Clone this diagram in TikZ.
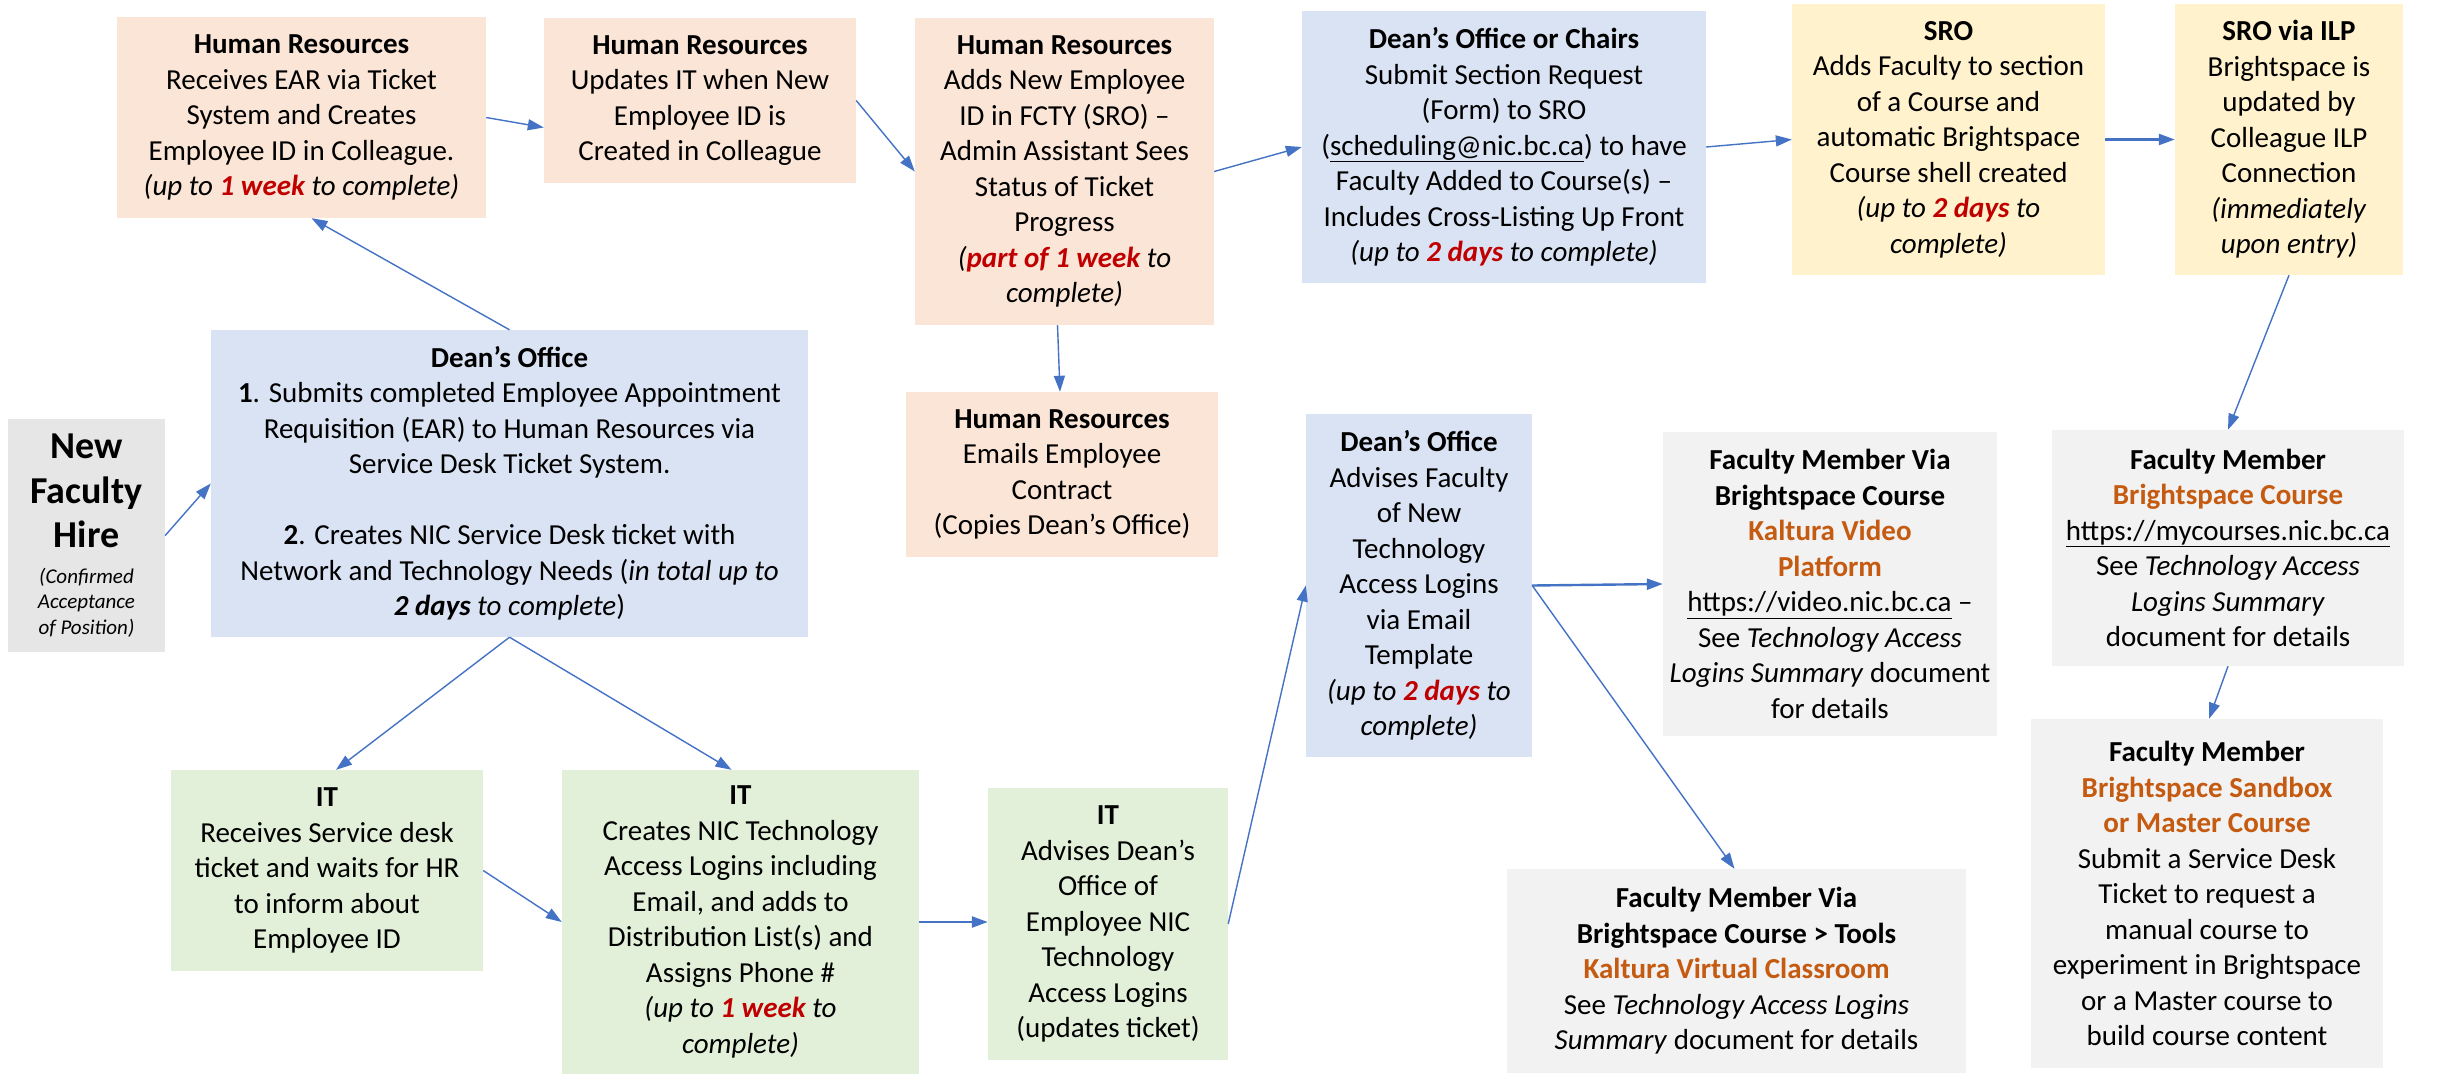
\documentclass[tikz,border=0pt]{standalone}
\usepackage{fontspec}
\setmainfont{Carlito}
\usetikzlibrary{arrows.meta}
\definecolor{hrfill}{HTML}{FBE5D6}
\definecolor{bluefill}{HTML}{DAE3F3}
\definecolor{yelfill}{HTML}{FFF2CC}
\definecolor{grnfill}{HTML}{E2F0D9}
\definecolor{greyfill}{HTML}{F2F2F2}
\definecolor{nfhfill}{HTML}{E7E6E6}
\definecolor{arrowblue}{HTML}{4472C4}
\definecolor{orangetxt}{HTML}{C55A11}
\definecolor{redtxt}{HTML}{C00000}
\newcommand{\rd}[1]{\textcolor{redtxt}{\textbf{#1}}}
\newcommand{\og}[1]{\textcolor{orangetxt}{\textbf{#1}}}
\tikzset{
  box/.style={rectangle, inner sep=0pt, align=center, font=\fontsize{29}{35.5}\selectfont},
  conn/.style={draw=arrowblue, line width=1.4pt, -{Triangle[length=16pt,width=11pt]}},
  connthick/.style={conn, line width=2.4pt}
}
\begin{document}
\begin{tikzpicture}[x=1pt,y=-1pt]
\fill[white] (0,0) rectangle (2438,1076);
\useasboundingbox (0,0) rectangle (2438,1076);

\node[box, fill=hrfill, minimum width=369pt, minimum height=201pt] (hr1) at (301.5,117.5)
 {\textbf{Human Resources}\\Receives EAR via Ticket\\System and Creates\\Employee ID in Colleague.\\\textit{(up to \rd{1 week} to complete)}};
\node[box, fill=hrfill, minimum width=312pt, minimum height=165pt] (hr2) at (700,100.5)
 {\textbf{Human Resources}\\Updates IT when New\\Employee ID is\\Created in Colleague};
\node[box, fill=hrfill, minimum width=299pt, minimum height=307pt] (hr3) at (1064.5,171.5)
 {\textbf{Human Resources}\\Adds New Employee\\ID in FCTY (SRO) –\\Admin Assistant Sees\\Status of Ticket\\Progress\\\textit{(\rd{part of 1 week} to}\\\textit{complete)}};
\node[box, fill=bluefill, minimum width=404pt, minimum height=272pt] (doc) at (1504,147)
 {\textbf{Dean’s Office or Chairs}\\Submit Section Request\\(Form) to SRO\\(\underline{scheduling@nic.bc.ca}) to have\\Faculty Added to Course(s) –\\Includes Cross-Listing Up Front\\\textit{(up to \rd{2 days} to complete)}};
\node[box, fill=yelfill, minimum width=313pt, minimum height=271pt] (sro) at (1948.5,139.5)
 {\textbf{SRO}\\Adds Faculty to section\\of a Course and\\automatic Brightspace\\Course shell created\\\textit{(up to \rd{2 days} to}\\\textit{complete)}};
\node[box, fill=yelfill, minimum width=228pt, minimum height=271pt] (ilp) at (2289,139.5)
 {\textbf{SRO via ILP}\\Brightspace is\\updated by\\Colleague ILP\\Connection\\\textit{(immediately}\\\textit{upon entry)}};
\node[box, fill=nfhfill, minimum width=157pt, minimum height=233pt] (nfh) at (86.5,535.5)
 {{\fontsize{38}{44}\selectfont\bfseries New}\\[9pt]{\fontsize{38}{44}\selectfont\bfseries Faculty}\\[9pt]{\fontsize{38}{44}\selectfont\bfseries Hire}\\[0pt]{\fontsize{21}{26}\selectfont\itshape (Confirmed}\\[-10pt]{\fontsize{21}{26}\selectfont\itshape Acceptance}\\[-10pt]{\fontsize{21}{26}\selectfont\itshape of Position)}};
\node[box, fill=bluefill, minimum width=597pt, minimum height=307pt] (do) at (509.5,483.5)
 {\textbf{Dean’s Office}\\\textbf{1}. Submits completed Employee Appointment\\Requisition (EAR) to Human Resources via\\Service Desk Ticket System.\\ \\\textbf{2}. Creates NIC Service Desk ticket with\\Network and Technology Needs (\textit{in total up to}\\\textit{\textbf{2 days} to complete})};
\node[box, fill=hrfill, minimum width=312pt, minimum height=165pt] (hr4) at (1062,474.5)
 {\textbf{Human Resources}\\Emails Employee\\Contract\\(Copies Dean’s Office)};
\node[box, fill=bluefill, minimum width=226pt, minimum height=343pt] (do2) at (1419,585.5)
 {\textbf{Dean’s Office}\\Advises Faculty\\of New\\Technology\\Access Logins\\via Email\\Template\\\textit{(up to \rd{2 days} to}\\\textit{complete)}};
\node[box, fill=greyfill, minimum width=334pt, minimum height=304pt] (fmk) at (1830,584)
 {\textbf{Faculty Member Via}\\\textbf{Brightspace Course}\\\og{Kaltura Video}\\\og{Platform}\\\underline{https://video.nic.bc.ca} –\\See \textit{Technology Access}\\\textit{Logins Summary} document\\for details};
\node[box, fill=greyfill, minimum width=352pt, minimum height=236pt] (fmb) at (2228,548)
 {\textbf{Faculty Member}\\\og{Brightspace Course}\\\underline{https://mycourses.nic.bc.ca}\\See \textit{Technology Access}\\\textit{Logins Summary}\\document for details};
\node[box, fill=greyfill, minimum width=352pt, minimum height=349pt] (fms) at (2207,893.5)
 {\textbf{Faculty Member}\\\og{Brightspace Sandbox}\\\og{or Master Course}\\Submit a Service Desk\\Ticket to request a\\manual course to\\experiment in Brightspace\\or a Master course to\\build course content};
\node[box, fill=greyfill, minimum width=459pt, minimum height=204pt] (fmv) at (1736.5,971)
 {\textbf{Faculty Member Via}\\\textbf{Brightspace Course > Tools}\\\og{Kaltura Virtual Classroom}\\See \textit{Technology Access Logins}\\\textit{Summary} document for details};
\node[box, fill=grnfill, minimum width=312pt, minimum height=201pt] (it1) at (327,870.5)
 {\textbf{IT}\\Receives Service desk\\ticket and waits for HR\\to inform about\\Employee ID};
\node[box, fill=grnfill, minimum width=357pt, minimum height=304pt] (it2) at (740.5,922)
 {\textbf{IT}\\Creates NIC Technology\\Access Logins including\\Email, and adds to\\Distribution List(s) and\\Assigns Phone \#\\\textit{(up to \rd{1 week} to}\\\textit{complete)}};
\node[box, fill=grnfill, minimum width=240pt, minimum height=272pt] (it3) at (1108,924)
 {\textbf{IT}\\Advises Dean’s\\Office of\\Employee NIC\\Technology\\Access Logins\\(updates ticket)};

% connectors
\draw[conn] (nfh.east) -- (do.west);
\draw[conn] (do.north) -- ([xshift=10pt]hr1.south);
\draw[conn] (hr1.east) -- ([yshift=-27pt]hr2.west);
\draw[conn] (hr2.east) -- (hr3.west);
\draw[conn] (hr3.east) -- (doc.west);
\draw[conn] (doc.east) -- (sro.west);
\draw[connthick] (sro.east) -- (ilp.west);
\draw[conn] (ilp.south) -- (fmb.north);
\draw[conn] (fmb.south) -- ([xshift=2pt]fms.north);
\draw[conn] ([xshift=-7pt]hr3.south) -- ([xshift=-2pt]hr4.north);
\draw[conn] (do.south) -- ([xshift=9pt]it1.north);
\draw[conn] (do.south) -- ([xshift=-9pt]it2.north);
\draw[conn] (it1.east) -- (it2.west);
\draw[connthick] (it2.east) -- (it2.east -| it3.west);
\draw[conn] (it3.east) -- (do2.west);
\draw[connthick] (do2.east) -- (fmk.west);
\draw[conn] (do2.east) -- ([xshift=-2pt]fmv.north);
\end{tikzpicture}
\end{document}
